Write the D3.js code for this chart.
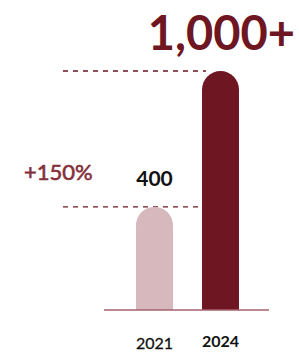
<!DOCTYPE html>
<html>
<head>
<meta charset="utf-8">
<script src="https://cdn.jsdelivr.net/npm/d3@7"></script>
<style>
  html, body { margin: 0; padding: 0; background: #fff; }
  svg { display: block; font-family: Lato, 'Open Sans', sans-serif; }
</style>
</head>
<body>
<svg id="chart"></svg>
<script>
const years = ['2021', '2024'];
const values = [400, 1000];
const valueLabels = ['400', '1,000+'];
const growthLabel = '+150%';

const width = 299, height = 353;
const baseline = 310;

const svg = d3.select('#chart')
  .attr('width', width)
  .attr('height', height);

const x = d3.scaleBand()
  .domain(years)
  .range([104, 271])
  .paddingInner(0.44)
  .paddingOuter(0.485);

const y = d3.scaleLinear()
  .domain([-55, 1000])
  .range([baseline, 71]);

const colors = d3.scaleOrdinal(years, ['#d6b8bd', '#6e1622']);

// dashed guide lines
svg.append('g')
  .selectAll('line')
  .data(values)
  .join('line')
  .attr('x1', 63)
  .attr('x2', (d, i) => i === 0 ? x(years[1]) - 2 : x(years[1]) + 4)
  .attr('y1', d => y(d))
  .attr('y2', d => y(d))
  .attr('stroke', '#6e1622')
  .attr('stroke-width', 1.3)
  .attr('stroke-dasharray', '5,5');

// bars with rounded tops
const bw = x.bandwidth();
const r = bw / 2;
svg.append('g')
  .selectAll('path')
  .data(values)
  .join('path')
  .attr('fill', (d, i) => colors(years[i]))
  .attr('d', (d, i) => {
    const x0 = x(years[i]);
    const top = y(d);
    return `M${x0},${baseline}V${top + r}A${r},${r} 0 0 1 ${x0 + bw},${top + r}V${baseline}Z`;
  });

// baseline
svg.append('line')
  .attr('x1', 104).attr('x2', 269)
  .attr('y1', baseline).attr('y2', baseline)
  .attr('stroke', '#a5626c')
  .attr('stroke-width', 1.5);

// value labels
svg.append('text')
  .attr('x', x(years[0]) + bw / 2)
  .attr('y', 186)
  .attr('text-anchor', 'middle')
  .attr('font-size', 21)
  .attr('font-weight', 700)
  .attr('fill', '#111')
  .text(valueLabels[0]);

svg.append('text')
  .attr('x', 295)
  .attr('y', 50)
  .attr('text-anchor', 'end')
  .attr('font-size', 47)
  .attr('font-weight', 700)
  .attr('fill', '#6e1622')
  .text(valueLabels[1]);

svg.append('text')
  .attr('x', 24)
  .attr('y', 180)
  .attr('font-size', 22)
  .attr('fill', '#84303c')
  .attr('stroke', '#84303c')
  .attr('stroke-width', 0.6)
  .text(growthLabel);

// x labels
svg.append('g')
  .selectAll('text')
  .data(years)
  .join('text')
  .attr('x', d => x(d) + bw / 2)
  .attr('y', (d, i) => i === 0 ? 349 : 347)
  .attr('text-anchor', 'middle')
  .attr('font-size', 16)
  .attr('font-weight', (d, i) => i === 0 ? 400 : 700)
  .attr('fill', '#111')
  .attr('stroke', (d, i) => i === 0 ? '#111' : 'none')
  .attr('stroke-width', 0.3)
  .text(d => d);
</script>
</body>
</html>
